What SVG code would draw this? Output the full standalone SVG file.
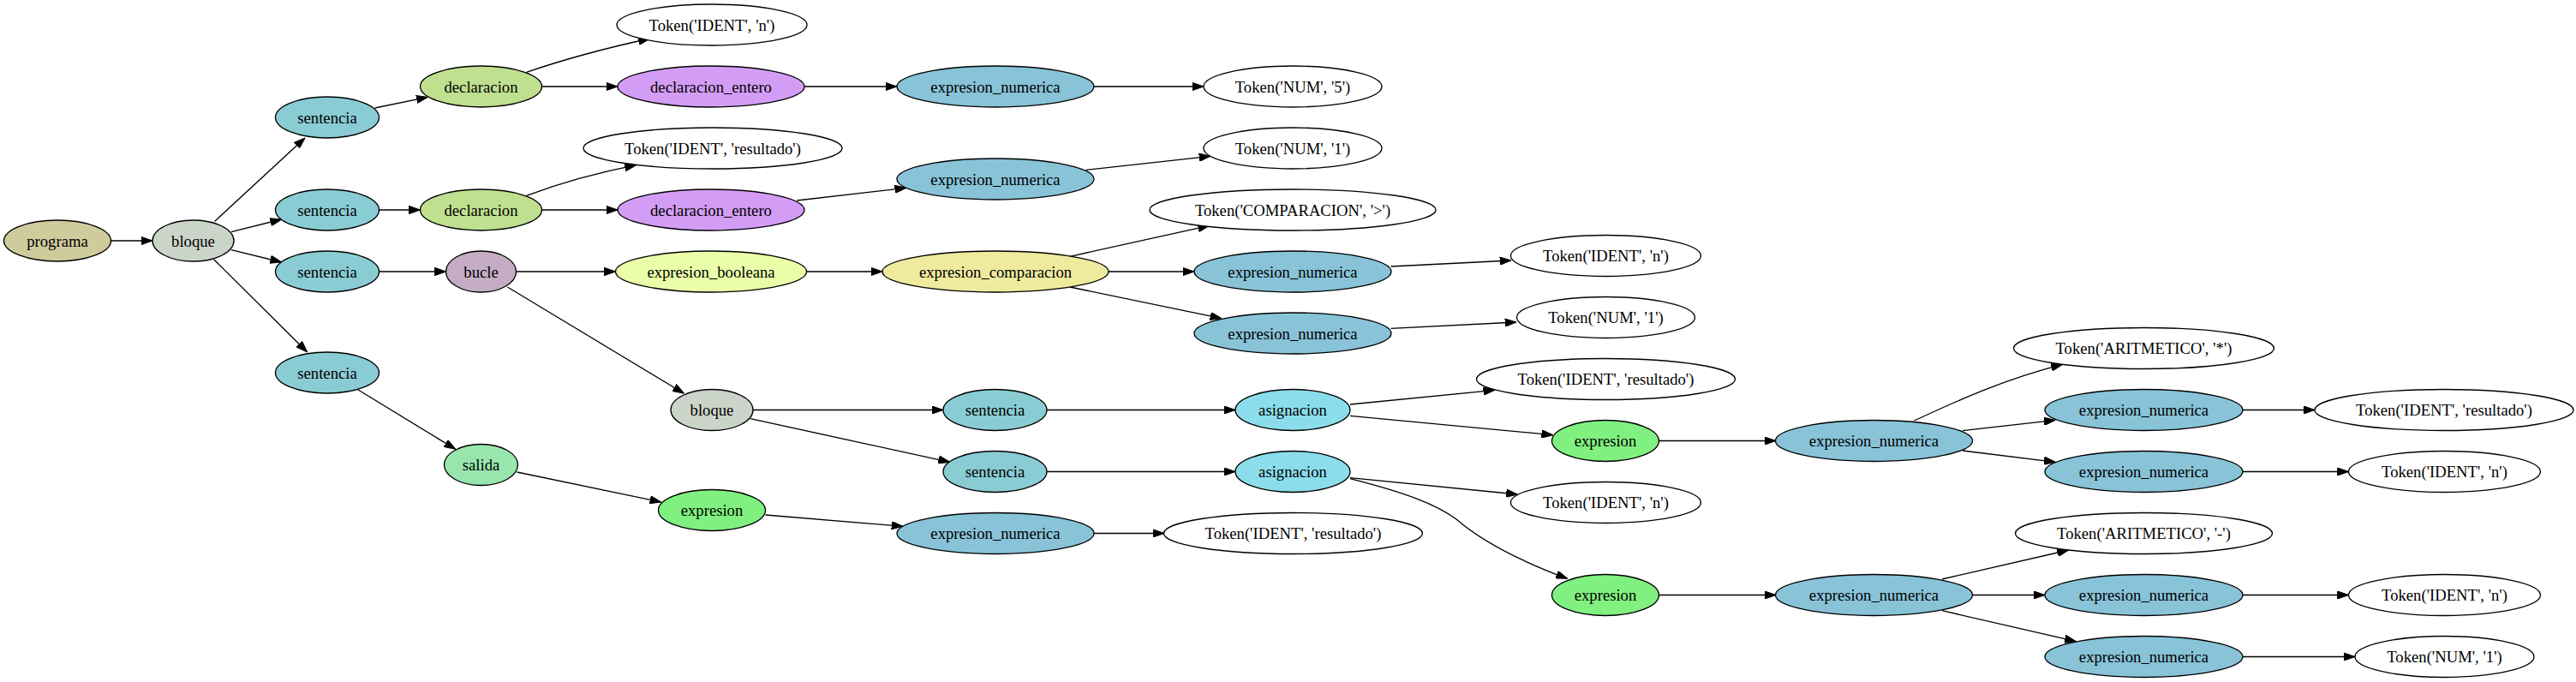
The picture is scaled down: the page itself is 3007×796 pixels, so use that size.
<svg xmlns="http://www.w3.org/2000/svg" width="3007" height="796" viewBox="0 0 3007 796">
<style>
.n ellipse{stroke:#000;stroke-width:1.33}
.n text{font-family:"Liberation Serif","Times New Roman",serif;font-size:18.67px;text-anchor:middle;fill:#000}
.e path{fill:none;stroke:#000;stroke-width:1.33;marker-end:url(#ah)}
.prog{fill:#cfcb9c}.bloq{fill:#cbd4c8}.sent{fill:#8accd4}.decl{fill:#bfe08f}.dent{fill:#d49df5}
.enum{fill:#88c3d8}.bucl{fill:#c4acc4}.ebool{fill:#eafeaa}.ecmp{fill:#efea9e}.asig{fill:#8cddeb}
.expr{fill:#80f080}.sal{fill:#98e6ae}.tok{fill:#fff}
</style>
<defs>
<marker id="ah" markerUnits="userSpaceOnUse" markerWidth="13.3" markerHeight="9.4" viewBox="0 0 13.3 9.4" refX="13.3" refY="4.7" orient="auto">
<path d="M0,0 L13.3,4.7 L0,9.4 z" fill="#000" stroke="#000" stroke-width="1"/>
</marker>
</defs>
<rect width="3007" height="796" fill="#fff"/>
<g id="edges" class="e">
<path d="M129.5,281 L178,281"/>
<path d="M250.5,258.5 L356,161"/>
<path d="M270,270.7 L328.6,256"/>
<path d="M270,291.7 L328.6,306"/>
<path d="M249.6,302.7 L358.7,411"/>
<path d="M437.7,126 L499.3,113.3"/>
<path d="M442.5,245 L490.5,245"/>
<path d="M442.5,317 L520.5,317"/>
<path d="M416.9,454.3 L531.7,524.3"/>
<path d="M614.6,84.3 Q680,62 758.6,45"/>
<path d="M632.5,101 L721,101"/>
<path d="M614.6,228.3 Q675,206 742.6,192.7"/>
<path d="M632.5,245 L721,245"/>
<path d="M602.5,317 L718.5,317"/>
<path d="M592.4,335 L798.5,459.3"/>
<path d="M603.5,551 L771.8,586"/>
<path d="M939,101 L1047,101"/>
<path d="M930.3,234 L1057.8,219.3"/>
<path d="M941.5,317 L1030,317"/>
<path d="M879,478.5 L1101,478.5"/>
<path d="M876,488.7 L1108.7,539.3"/>
<path d="M893.5,601 L1054,614.3"/>
<path d="M1277,101 L1405,101"/>
<path d="M1267.7,198.3 L1413,182.3"/>
<path d="M1249,299.3 L1411.7,263.3"/>
<path d="M1294,317 L1394,317"/>
<path d="M1249,335 L1426,371.7"/>
<path d="M1222,478.5 L1442,478.5"/>
<path d="M1222,550.5 L1442,550.5"/>
<path d="M1277,622.5 L1359,622.5"/>
<path d="M1623.6,311 L1764,304"/>
<path d="M1623.6,383.3 L1770,376"/>
<path d="M1576,472 L1744.8,455.3"/>
<path d="M1576,485.3 L1812.7,507.7"/>
<path d="M1576,557.7 L1771.5,577"/>
<path d="M1576,558.7 C1640,575 1675,588 1700,606 C1730,632 1775,655 1829.6,675.3"/>
<path d="M1936.5,514.5 L2073,514.5"/>
<path d="M1936.5,694.5 L2073,694.5"/>
<path d="M2234.4,491 C2270,475 2330,445 2407.5,425.3"/>
<path d="M2291,502.7 L2399.3,490.3"/>
<path d="M2291,526 L2399.3,539.3"/>
<path d="M2267,676 L2414.8,642"/>
<path d="M2302,694.5 L2387,694.5"/>
<path d="M2267,712.7 L2423.5,748.7"/>
<path d="M2618,478.5 L2702,478.5"/>
<path d="M2618,550.5 L2741.5,550.5"/>
<path d="M2618,694.5 L2741.5,694.5"/>
<path d="M2618,766.5 L2749,766.5"/>
</g>
<g id="n0" class="n"><ellipse class="prog" cx="67" cy="281" rx="62.5" ry="24"/><text x="67" y="287.5">programa</text></g>
<g id="n1" class="n"><ellipse class="bloq" cx="225.5" cy="281" rx="47.5" ry="24"/><text x="225.5" y="287.5">bloque</text></g>
<g id="n2" class="n"><ellipse class="sent" cx="382" cy="137" rx="60.5" ry="24"/><text x="382" y="143.5">sentencia</text></g>
<g id="n3" class="n"><ellipse class="sent" cx="382" cy="245" rx="60.5" ry="24"/><text x="382" y="251.5">sentencia</text></g>
<g id="n4" class="n"><ellipse class="sent" cx="382" cy="317" rx="60.5" ry="24"/><text x="382" y="323.5">sentencia</text></g>
<g id="n5" class="n"><ellipse class="sent" cx="382" cy="435" rx="60.5" ry="24"/><text x="382" y="441.5">sentencia</text></g>
<g id="n6" class="n"><ellipse class="decl" cx="561.5" cy="101" rx="71" ry="24"/><text x="561.5" y="107.5">declaracion</text></g>
<g id="n7" class="n"><ellipse class="decl" cx="561.5" cy="245" rx="71" ry="24"/><text x="561.5" y="251.5">declaracion</text></g>
<g id="n8" class="n"><ellipse class="bucl" cx="561.5" cy="317" rx="41" ry="24"/><text x="561.5" y="323.5">bucle</text></g>
<g id="n9" class="n"><ellipse class="sal" cx="561.5" cy="542.5" rx="43" ry="24"/><text x="561.5" y="549">salida</text></g>
<g id="n10" class="n"><ellipse class="tok" cx="831" cy="29" rx="111" ry="24"/><text x="831" y="35.5">Token('IDENT', 'n')</text></g>
<g id="n11" class="n"><ellipse class="dent" cx="830" cy="101" rx="109" ry="24"/><text x="830" y="107.5">declaracion_entero</text></g>
<g id="n12" class="n"><ellipse class="tok" cx="832" cy="173" rx="151" ry="24"/><text x="832" y="179.5">Token('IDENT', 'resultado')</text></g>
<g id="n13" class="n"><ellipse class="dent" cx="830" cy="245" rx="109" ry="24"/><text x="830" y="251.5">declaracion_entero</text></g>
<g id="n14" class="n"><ellipse class="ebool" cx="830" cy="317" rx="111.5" ry="24"/><text x="830" y="323.5">expresion_booleana</text></g>
<g id="n15" class="n"><ellipse class="bloq" cx="831" cy="478.5" rx="48" ry="24"/><text x="831" y="485">bloque</text></g>
<g id="n16" class="n"><ellipse class="expr" cx="831" cy="595.5" rx="62.5" ry="24"/><text x="831" y="602">expresion</text></g>
<g id="n17" class="n"><ellipse class="enum" cx="1162" cy="101" rx="115" ry="24"/><text x="1162" y="107.5">expresion_numerica</text></g>
<g id="n18" class="n"><ellipse class="enum" cx="1162" cy="209" rx="115" ry="24"/><text x="1162" y="215.5">expresion_numerica</text></g>
<g id="n19" class="n"><ellipse class="ecmp" cx="1162" cy="317" rx="132" ry="24"/><text x="1162" y="323.5">expresion_comparacion</text></g>
<g id="n20" class="n"><ellipse class="sent" cx="1161.5" cy="478.5" rx="60.5" ry="24"/><text x="1161.5" y="485">sentencia</text></g>
<g id="n21" class="n"><ellipse class="sent" cx="1161.5" cy="550.5" rx="60.5" ry="24"/><text x="1161.5" y="557">sentencia</text></g>
<g id="n22" class="n"><ellipse class="enum" cx="1162" cy="622.5" rx="115" ry="24"/><text x="1162" y="629">expresion_numerica</text></g>
<g id="n23" class="n"><ellipse class="tok" cx="1509" cy="101" rx="104" ry="24"/><text x="1509" y="107.5">Token('NUM', '5')</text></g>
<g id="n24" class="n"><ellipse class="tok" cx="1509" cy="173" rx="104" ry="24"/><text x="1509" y="179.5">Token('NUM', '1')</text></g>
<g id="n25" class="n"><ellipse class="tok" cx="1509" cy="245" rx="167" ry="24"/><text x="1509" y="251.5">Token('COMPARACION', '&gt;')</text></g>
<g id="n26" class="n"><ellipse class="enum" cx="1509" cy="317" rx="115" ry="24"/><text x="1509" y="323.5">expresion_numerica</text></g>
<g id="n27" class="n"><ellipse class="enum" cx="1509" cy="389" rx="115" ry="24"/><text x="1509" y="395.5">expresion_numerica</text></g>
<g id="n28" class="n"><ellipse class="asig" cx="1509" cy="478.5" rx="67" ry="24"/><text x="1509" y="485">asignacion</text></g>
<g id="n29" class="n"><ellipse class="asig" cx="1509" cy="550.5" rx="67" ry="24"/><text x="1509" y="557">asignacion</text></g>
<g id="n30" class="n"><ellipse class="tok" cx="1509.5" cy="622.5" rx="151" ry="24"/><text x="1509.5" y="629">Token('IDENT', 'resultado')</text></g>
<g id="n31" class="n"><ellipse class="tok" cx="1874.5" cy="298.5" rx="111" ry="24"/><text x="1874.5" y="305">Token('IDENT', 'n')</text></g>
<g id="n32" class="n"><ellipse class="tok" cx="1874.5" cy="370.5" rx="104" ry="24"/><text x="1874.5" y="377">Token('NUM', '1')</text></g>
<g id="n33" class="n"><ellipse class="tok" cx="1874.5" cy="442.5" rx="151" ry="24"/><text x="1874.5" y="449">Token('IDENT', 'resultado')</text></g>
<g id="n34" class="n"><ellipse class="expr" cx="1874" cy="514.5" rx="62.5" ry="24"/><text x="1874" y="521">expresion</text></g>
<g id="n35" class="n"><ellipse class="tok" cx="1874.5" cy="586.5" rx="111" ry="24"/><text x="1874.5" y="593">Token('IDENT', 'n')</text></g>
<g id="n36" class="n"><ellipse class="expr" cx="1874" cy="694.5" rx="62.5" ry="24"/><text x="1874" y="701">expresion</text></g>
<g id="n37" class="n"><ellipse class="enum" cx="2187.5" cy="514.5" rx="115" ry="24"/><text x="2187.5" y="521">expresion_numerica</text></g>
<g id="n38" class="n"><ellipse class="enum" cx="2187.5" cy="694.5" rx="115" ry="24"/><text x="2187.5" y="701">expresion_numerica</text></g>
<g id="n39" class="n"><ellipse class="tok" cx="2502.5" cy="406.5" rx="152" ry="24"/><text x="2502.5" y="413">Token('ARITMETICO', '*')</text></g>
<g id="n40" class="n"><ellipse class="enum" cx="2502.5" cy="478.5" rx="115.5" ry="24"/><text x="2502.5" y="485">expresion_numerica</text></g>
<g id="n41" class="n"><ellipse class="enum" cx="2502.5" cy="550.5" rx="115.5" ry="24"/><text x="2502.5" y="557">expresion_numerica</text></g>
<g id="n42" class="n"><ellipse class="tok" cx="2502.5" cy="622.5" rx="150" ry="24"/><text x="2502.5" y="629">Token('ARITMETICO', '-')</text></g>
<g id="n43" class="n"><ellipse class="enum" cx="2502.5" cy="694.5" rx="115.5" ry="24"/><text x="2502.5" y="701">expresion_numerica</text></g>
<g id="n44" class="n"><ellipse class="enum" cx="2502.5" cy="766.5" rx="115.5" ry="24"/><text x="2502.5" y="773">expresion_numerica</text></g>
<g id="n45" class="n"><ellipse class="tok" cx="2853" cy="478.5" rx="151" ry="24"/><text x="2853" y="485">Token('IDENT', 'resultado')</text></g>
<g id="n46" class="n"><ellipse class="tok" cx="2853.5" cy="550.5" rx="112" ry="24"/><text x="2853.5" y="557">Token('IDENT', 'n')</text></g>
<g id="n47" class="n"><ellipse class="tok" cx="2853.5" cy="694.5" rx="112" ry="24"/><text x="2853.5" y="701">Token('IDENT', 'n')</text></g>
<g id="n48" class="n"><ellipse class="tok" cx="2853.5" cy="766.5" rx="104.5" ry="24"/><text x="2853.5" y="773">Token('NUM', '1')</text></g>
</svg>
